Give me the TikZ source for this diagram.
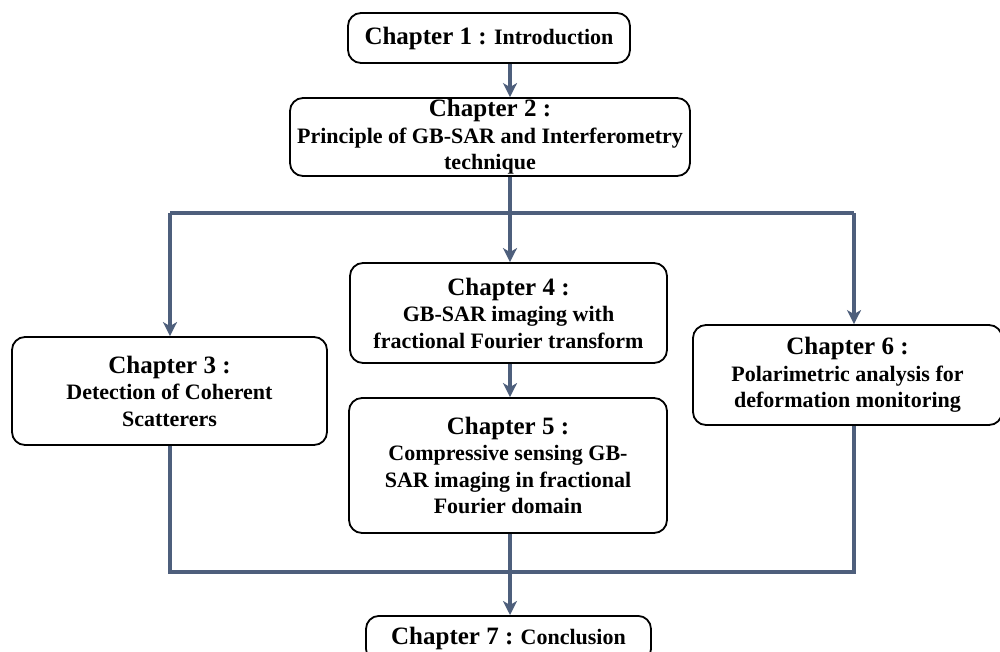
\documentclass[tikz,border=0pt]{standalone}
\usepackage{fontspec}
\setmainfont{Liberation Serif}
\usetikzlibrary{arrows.meta}
\definecolor{conn}{HTML}{4E5F7C}
\newcommand{\chapfont}{\fontsize{25}{27}\selectfont\bfseries}
\newcommand{\bodyfont}{\fontsize{22}{26.5}\selectfont\bfseries}
\begin{document}
\begin{tikzpicture}[x=1pt,y=-1pt,
  box/.style={draw=black,line width=1.8pt,rounded corners=13pt,align=center,inner sep=0pt,fill=white,font=\bodyfont},
  link/.style={draw=conn,line width=3.6pt},
  arr/.style={link,-{Stealth[length=14pt,width=14pt,inset=4pt]}}]
\useasboundingbox (0,0) rectangle (1000,651);
\fill[white] (0,0) rectangle (1000,651);
\coordinate (lc) at (170,0);
\coordinate (mc) at (510,0);
\coordinate (rc) at (854,0);
\coordinate (top) at (0,213);
\coordinate (bot) at (0,572);
\node[box,minimum width=282pt,minimum height=50pt] (b1) at (489,38) {{\chapfont Chapter 1 :} Introduction};
\node[box,minimum width=400pt,minimum height=78pt] (b2) at (490,137) {{\chapfont Chapter 2 :}\\Principle of GB-SAR and Interferometry\\technique};
\node[box,minimum width=315pt,minimum height=108pt] (b3) at (169.5,391) {{\chapfont Chapter 3 :}\\Detection of Coherent\\Scatterers};
\node[box,minimum width=317pt,minimum height=100pt] (b4) at (508.5,313) {{\chapfont Chapter 4 :}\\GB-SAR imaging with\\fractional Fourier transform};
\node[box,minimum width=318pt,minimum height=135pt] (b5) at (508,465.5) {{\chapfont Chapter 5 :}\\Compressive sensing GB-\\SAR imaging in fractional\\Fourier domain};
\node[box,minimum width=309pt,minimum height=100pt] (b6) at (847.5,375) {{\chapfont Chapter 6 :}\\Polarimetric analysis for\\deformation monitoring};
\node[box,minimum width=285pt,minimum height=46pt,anchor=north] (b7) at (508.5,615) {{\chapfont Chapter 7 :} Conclusion};
% connectors
\draw[arr] (b1.south -| mc) -- (b2.north -| mc);
\draw[link] (b2.south -| mc) -- (top -| mc);
\draw[link] (top -| lc) -- (top -| rc);
\draw[arr] (top -| lc) -- (b3.north -| lc);
\draw[arr] (top -| mc) -- (b4.north -| mc);
\draw[arr] (top -| rc) -- (b6.north -| rc);
\draw[arr] (b4.south -| mc) -- (b5.north -| mc);
\draw[link] (b3.south -| lc) -- (bot -| lc) -- (bot -| rc) -- (b6.south -| rc);
\draw[arr] (b5.south -| mc) -- (b7.north -| mc);
\end{tikzpicture}
\end{document}
